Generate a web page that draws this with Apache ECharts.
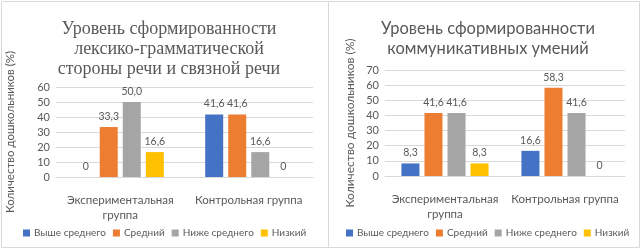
<!DOCTYPE html>
<html>
<head>
<meta charset="utf-8">
<script src="https://cdn.jsdelivr.net/npm/echarts@6/dist/echarts.min.js"></script>
<style>
  html, body { margin: 0; padding: 0; background: #fff; }
  #main { width: 643px; height: 251px; }
</style>
</head>
<body>
<div id="main"></div>
<script>
const categories = ["Экспериментальная\nгруппа", "Контрольная группа"];
const levels = ["Выше среднего", "Средний", "Ниже среднего", "Низкий"];
const colors = ["#4472C4", "#ED7D31", "#A5A5A5", "#FFC000"];

// левая диаграмма: лексико-грамматическая сторона речи
const speechAbove = [0, 41.6];
const speechMiddle = [33.3, 41.6];
const speechBelow = [50.0, 16.6];
const speechLow = [16.6, 0];

// правая диаграмма: коммуникативные умения
const commAbove = [8.3, 16.6];
const commMiddle = [41.6, 58.3];
const commBelow = [41.6, 41.6];
const commLow = [8.3, 0];

const textColor = "#595959";
const font = "Lato";

function fmt(p) {
  return p.value === 0 ? "0" : p.value.toFixed(1).replace(".", ",");
}

function makeSeries(name, data, idx, color) {
  return {
    name: name,
    type: "bar",
    xAxisIndex: idx,
    yAxisIndex: idx,
    data: data,
    barWidth: 18,
    barGap: "28%",
    itemStyle: { color: color },
    label: {
      show: true,
      position: "top",
      distance: 5,
      formatter: fmt,
      color: textColor,
      fontFamily: font,
      fontSize: 10.5,
    },
  };
}

function yAxis(idx, max) {
  return {
    gridIndex: idx,
    type: "value",
    min: 0,
    max: max,
    interval: 10,
    name: "Количество дошкольников (%)",
    nameLocation: "middle",
    nameGap: idx === 0 ? 40 : 29,
    nameTextStyle: { color: textColor, fontFamily: font, fontSize: idx === 0 ? 11.5 : 12 },
    axisLine: { show: false },
    axisTick: { show: false },
    axisLabel: { color: textColor, fontFamily: font, fontSize: 11, margin: 6 },
    splitLine: { lineStyle: { color: "#d9d9d9" } },
  };
}

function xAxis(idx) {
  return {
    gridIndex: idx,
    type: "category",
    data: categories,
    axisLine: { lineStyle: { color: "#d9d9d9" } },
    axisTick: { show: false },
    axisLabel: {
      color: textColor,
      fontFamily: font,
      fontSize: 11.5,
      margin: 16,
      lineHeight: 15,
      interval: 0,
    },
  };
}

function legend(left) {
  return {
    data: levels,
    left: left,
    top: 228,
    width: 300,
    padding: 0,
    itemWidth: 7,
    itemHeight: 7,
    itemGap: 7,
    itemStyle: { borderWidth: 0 },
    icon: "rect",
    textStyle: { color: textColor, fontFamily: font, fontSize: 10, padding: [0, 0, 0, -1] },
    selectedMode: false,
  };
}

const chart = echarts.init(document.getElementById("main"));
chart.setOption({
  animation: false,
  color: colors,
  title: [
    {
      text: "Уровень сформированности\nлексико-грамматической\nстороны речи и связной речи",
      left: 164,
      top: 14,
      textAlign: "center",
      textStyle: {
        color: textColor,
        fontFamily: "Liberation Serif",
        fontWeight: "normal",
        fontSize: 18,
        lineHeight: 20,
      },
    },
    {
      text: "Уровень сформированности\nкоммуникативных умений",
      left: 483,
      top: 14,
      textAlign: "center",
      textStyle: {
        color: textColor,
        fontFamily: font,
        fontWeight: "normal",
        fontSize: 16.5,
        lineHeight: 20,
      },
    },
  ],
  grid: [
    { left: 56, right: 330, top: 87, bottom: 74 },
    { left: 385, right: 18, top: 70, bottom: 75 },
  ],
  xAxis: [xAxis(0), xAxis(1)],
  yAxis: [yAxis(0, 60), yAxis(1, 70)],
  legend: [legend(23), legend(346)],
  graphic: [
    {
      type: "rect",
      shape: { x: 1.5, y: 1.5, width: 327, height: 246 },
      style: { fill: null, stroke: "#d9d9d9", lineWidth: 1 },
    },
    {
      type: "rect",
      shape: { x: 328.5, y: 1.5, width: 311, height: 246 },
      style: { fill: null, stroke: "#d9d9d9", lineWidth: 1 },
    },
  ],
  series: [
    makeSeries(levels[0], speechAbove, 0, colors[0]),
    makeSeries(levels[1], speechMiddle, 0, colors[1]),
    makeSeries(levels[2], speechBelow, 0, colors[2]),
    makeSeries(levels[3], speechLow, 0, colors[3]),
    makeSeries(levels[0], commAbove, 1, colors[0]),
    makeSeries(levels[1], commMiddle, 1, colors[1]),
    makeSeries(levels[2], commBelow, 1, colors[2]),
    makeSeries(levels[3], commLow, 1, colors[3]),
  ],
});
</script>
</body>
</html>
